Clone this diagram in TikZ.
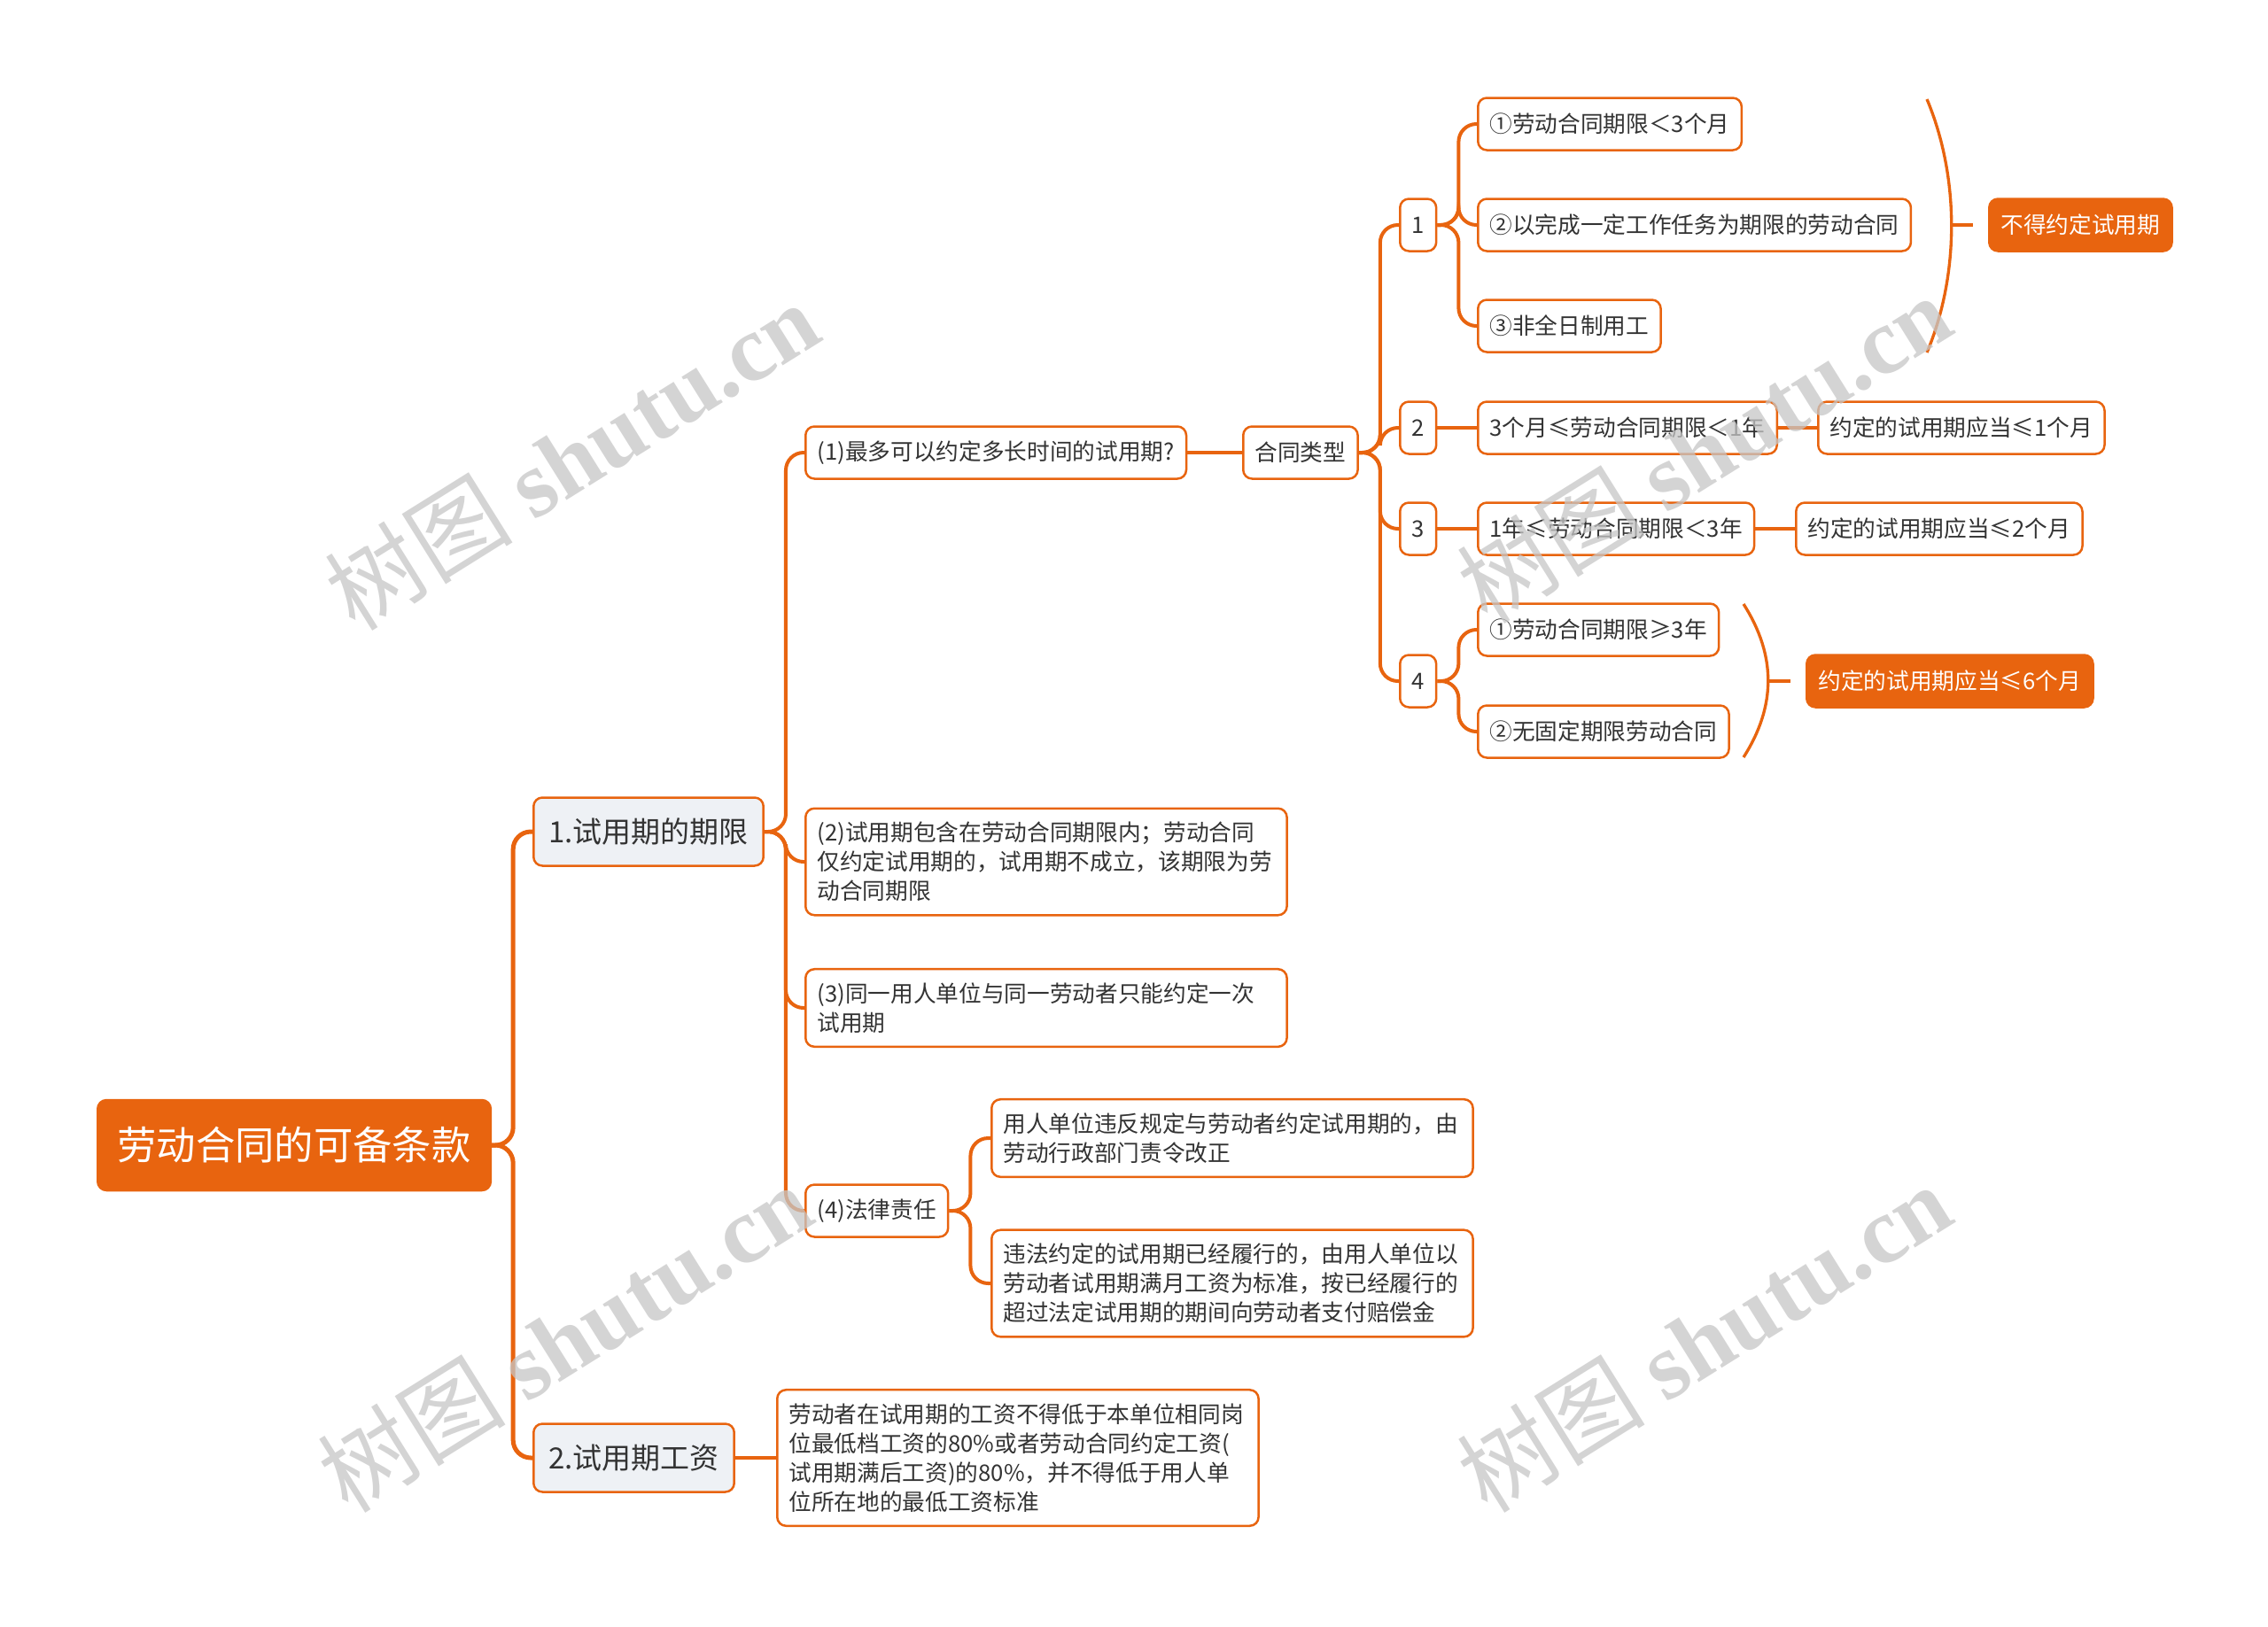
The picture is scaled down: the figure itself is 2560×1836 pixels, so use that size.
\documentclass[tikz,border=0pt]{standalone}
\usepackage{fontspec}
\setmainfont{Noto Sans CJK SC}
\newfontfamily\wmfont{Liberation Serif}
\definecolor{mmorange}{HTML}{E8640F}
\definecolor{mmgrey}{HTML}{EEF1F5}
\definecolor{mmtext}{HTML}{333333}
\begin{document}
\begin{tikzpicture}[x=0.3pt,y=-0.3pt,
	box/.style={draw=mmorange,line width=0.75pt,rounded corners=3pt,fill=white,text=mmtext,anchor=west,
		inner xsep=4pt,inner ysep=4pt,minimum height=17.7pt,font=\fontsize{7.7}{9.9}\selectfont},
	note/.style={box,text width=155pt,align=left,inner ysep=4.6pt},
	hot/.style={box,fill=mmorange,text=white},
	topic/.style={box,fill=mmgrey,inner xsep=5.1pt,minimum height=23.1pt,font=\fontsize{9.9}{12}\selectfont},
	central/.style={box,fill=mmorange,text=white,inner xsep=6.7pt,minimum height=30.6pt,font=\fontsize{13.3}{16}\selectfont},
	link/.style={draw=mmorange,line width=1.2pt,rounded corners=6pt},
	wm/.style={text=gray!45,opacity=0.75,font=\fontsize{32}{32}\selectfont,rotate=32}]
	\useasboundingbox (0,0) rectangle (2560,1836);
	\node[central] (main) at (109,1293) {劳动合同的可备条款};
	\node[topic] (t1) at (601,939) {1.试用期的期限};
	\node[topic] (t2) at (601,1646) {2.试用期工资};
	\node[box] (q1) at (908,511) {(1)最多可以约定多长时间的试用期?};
	\node[box] (type) at (1402,511) {合同类型};
	\node[box] (k1) at (1579,254) {1};
	\node[box] (k2) at (1579,483) {2};
	\node[box] (k3) at (1579,597) {3};
	\node[box] (k4) at (1579,769) {4};
	\node[box] (a1) at (1667,140) {①劳动合同期限＜3个月};
	\node[box] (a2) at (1667,254) {②以完成一定工作任务为期限的劳动合同};
	\node[box] (a3) at (1667,368) {③非全日制用工};
	\node[hot] (none) at (2244,254) {不得约定试用期};
	\node[box] (b2) at (1667,483) {3个月≤劳动合同期限＜1年};
	\node[box] (r2) at (2051,483) {约定的试用期应当≤1个月};
	\node[box] (b3) at (1667,597) {1年≤劳动合同期限＜3年};
	\node[box] (r3) at (2026,597) {约定的试用期应当≤2个月};
	\node[box] (c1) at (1667,711) {①劳动合同期限≥3年};
	\node[box] (c2) at (1667,826) {②无固定期限劳动合同};
	\node[hot] (r4) at (2038,769) {约定的试用期应当≤6个月};
	\node[note] (q2) at (908,973) {(2)试用期包含在劳动合同期限内；劳动合同\\仅约定试用期的，试用期不成立，该期限为劳\\动合同期限};
	\node[note] (q3) at (908,1138) {(3)同一用人单位与同一劳动者只能约定一次\\试用期};
	\node[box] (q4) at (908,1367) {(4)法律责任};
	\node[note] (l1) at (1118,1285) {用人单位违反规定与劳动者约定试用期的，由\\劳动行政部门责令改正};
	\node[note] (l2) at (1118,1449) {违法约定的试用期已经履行的，由用人单位以\\劳动者试用期满月工资为标准，按已经履行的\\超过法定试用期的期间向劳动者支付赔偿金};
	\node[note] (w) at (876,1646) {劳动者在试用期的工资不得低于本单位相同岗\\位最低档工资的80\%或者劳动合同约定工资(\\试用期满后工资)的80\%，并不得低于用人单\\位所在地的最低工资标准};
	\foreach \c in {t1,t2}
		\draw[link,line width=1.5pt] (main.east) -- ++(24,0) |- (\c.west);
	\foreach \c in {q1,q2,q3,q4}
		\draw[link] (t1.east) -- ++(24,0) |- (\c.west);
	\foreach \c in {k1,k2,k3,k4}
		\draw[link] (type.east) -- ++(24,0) |- (\c.west);
	\foreach \c in {a1,a2,a3}
		\draw[link] (k1.east) -- ++(24,0) |- (\c.west);
	\foreach \c in {c1,c2}
		\draw[link] (k4.east) -- ++(24,0) |- (\c.west);
	\foreach \c in {l1,l2}
		\draw[link] (q4.east) -- ++(24,0) |- (\c.west);
	\draw[link] (q1) -- (type);
	\draw[link] (k2) -- (b2);
	\draw[link] (b2) -- (r2);
	\draw[link] (k3) -- (b3);
	\draw[link] (b3) -- (r3);
	\draw[link] (t2) -- (w);
	\draw[mmorange,line width=1pt] (2175,112) .. controls (2212,200) and (2212,310) .. (2175,398);
	\coordinate (br1) at (2203,254);
	\draw[link] (br1) -- (none.west) [shorten >=5pt];
	\draw[mmorange,line width=1pt] (1968,682) .. controls (2005,740) and (2005,797) .. (1968,855);
	\coordinate (br2) at (1996,769);
	\draw[link] (br2) -- (r4.west) [shorten >=5pt];
	\node[wm] at (645,514) {树图 {\wmfont\bfseries shutu.cn}};
	\node[wm] at (637,1510) {树图 {\wmfont\bfseries shutu.cn}};
	\node[wm] at (1923,506) {树图 {\wmfont\bfseries shutu.cn}};
	\node[wm] at (1923,1510) {树图 {\wmfont\bfseries shutu.cn}};
\end{tikzpicture}
\end{document}
